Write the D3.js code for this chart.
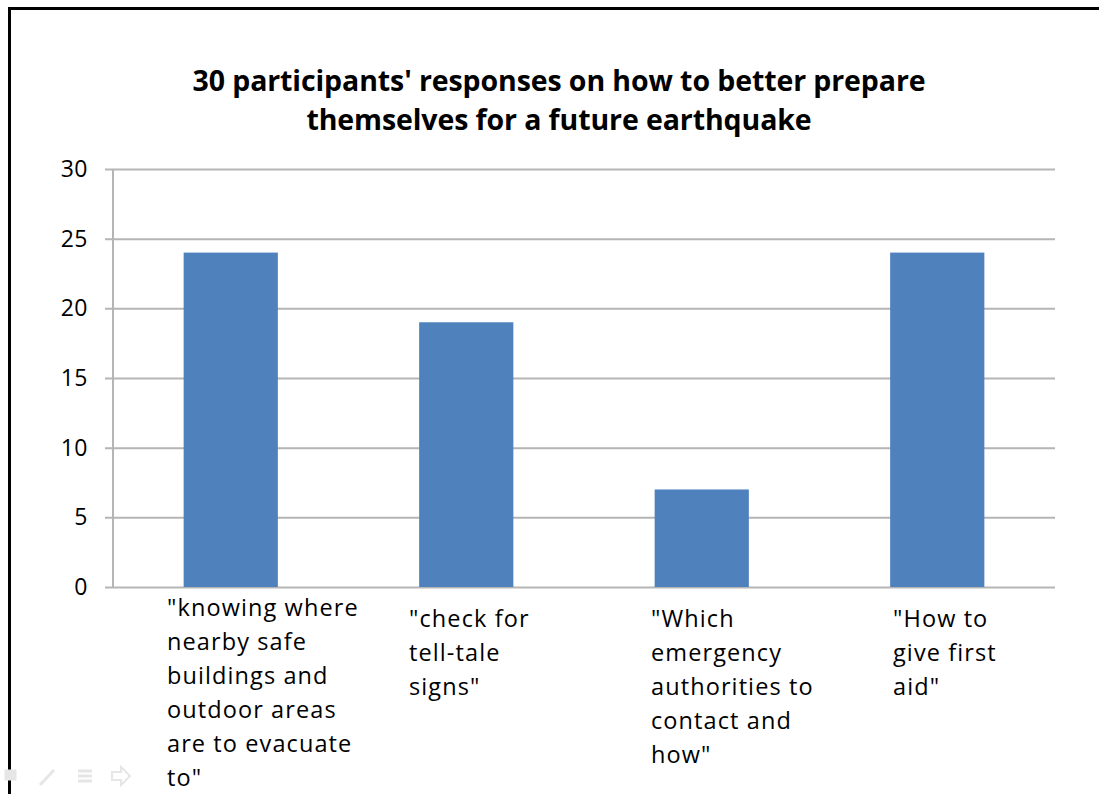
<!DOCTYPE html>
<html>
<head>
<meta charset="utf-8">
<script src="https://cdn.jsdelivr.net/npm/d3@7"></script>
<style>
  body { margin: 0; background: #fff; }
  svg { display: block; }
  text { font-family: "Open Sans", Lato, sans-serif; fill: #000; }
</style>
</head>
<body>
<svg id="chart"></svg>
<script>
// chart data
var categories = ["where", "signs", "authorities", "firstaid"];
var labelLines = [
  ["\"knowing where", "nearby safe", "buildings and", "outdoor areas", "are to evacuate", "to\""],
  ["\"check for", "tell-tale", "signs\""],
  ["\"Which", "emergency", "authorities to", "contact and", "how\""],
  ["\"How to", "give first", "aid\""]
];
var values = [24, 19, 7, 24];
var yTicks = [0, 5, 10, 15, 20, 25, 30];
var titleLines = ["30 participants' responses on how to better prepare", "themselves for a future earthquake"];

var width = 1099, height = 794;
var margin = {top: 169, left: 113, right: 44, bottom: 207};

var svg = d3.select("#chart")
  .attr("width", width)
  .attr("height", height);

// frame of the slide
svg.append("path")
  .attr("d", "M9.5," + height + " V8.5 H" + width)
  .attr("fill", "none")
  .attr("stroke", "#000")
  .attr("stroke-width", 3);

var x = d3.scaleBand()
  .domain(categories)
  .range([margin.left, width - margin.right])
  .paddingInner(0.6)
  .paddingOuter(0.3);

var y = d3.scaleLinear()
  .domain([0, 30])
  .range([height - margin.bottom, margin.top]);

// label columns
var xl = d3.scalePoint()
  .domain(categories)
  .range([167, 893]);

// gridlines + y axis
var yAxis = svg.append("g")
  .attr("transform", "translate(" + margin.left + ",0)")
  .call(d3.axisLeft(y).tickValues(yTicks).tickSize(8).tickPadding(17))
  .call(g => g.select(".domain").remove());

yAxis.selectAll(".tick line")
  .attr("x2", width - margin.right - margin.left)
  .attr("x1", -8)
  .attr("stroke", "#b5b5b5")
  .attr("stroke-width", 2);

yAxis.selectAll(".tick text")
  .attr("font-size", 23)
  .attr("font-family", "'Open Sans', sans-serif")
  .attr("letter-spacing", 0.5)
  .attr("fill", "#000");

svg.append("line")
  .attr("x1", margin.left).attr("x2", margin.left)
  .attr("y1", y(30)).attr("y2", y(0))
  .attr("stroke", "#b5b5b5")
  .attr("stroke-width", 2);

// bars
svg.append("g")
  .selectAll("rect")
  .data(values)
  .join("rect")
    .attr("x", (d, i) => x(categories[i]))
    .attr("y", d => y(d))
    .attr("width", x.bandwidth())
    .attr("height", d => y(0) - y(d))
    .attr("fill", "#4f81bd");

// category labels
svg.append("g")
  .selectAll("text")
  .data(labelLines)
  .join("text")
    .attr("font-size", 23.5)
    .attr("letter-spacing", 1.1)
    .attr("y", d => d.length > 5 ? 616 : 627)
    .each(function(d, i) {
      d3.select(this).selectAll("tspan")
        .data(d)
        .join("tspan")
          .attr("x", xl(categories[i]))
          .attr("dy", (t, j) => j ? 34 : 0)
          .text(t => t);
    });

// title
svg.append("text")
  .attr("text-anchor", "middle")
  .attr("font-size", 28.5)
  .attr("font-weight", "bold")
  .attr("letter-spacing", -0.1)
  .selectAll("tspan")
  .data(titleLines)
  .join("tspan")
    .attr("x", 559)
    .attr("y", (d, i) => 91 + i * 39)
    .text(d => d);

// faint slideshow controls
var ctl = svg.append("g").attr("fill", "none").attr("stroke", "#e6e6e6").attr("stroke-width", 3);
ctl.append("rect").attr("x", 6).attr("y", 771).attr("width", 9).attr("height", 8).attr("fill", "#e6e6e6");
ctl.append("line").attr("x1", 40).attr("y1", 785).attr("x2", 54).attr("y2", 770);
ctl.append("path").attr("d", "M78,771 H92 M78,776 H92 M78,781 H92");
ctl.append("path").attr("d", "M112,772 H121 V767 L130,776 L121,785 V780 H112 Z").attr("stroke-width", 2);
</script>
</body>
</html>
